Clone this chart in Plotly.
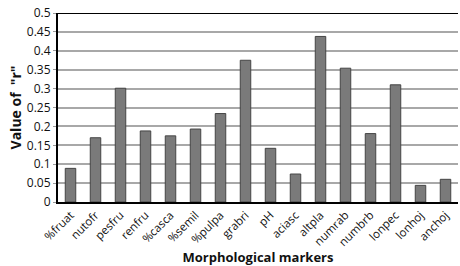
import plotly.graph_objects as go

categories = ["%fruat", "nutofr", "pesfru", "renfru", "%casca", "%semil", "%pulpa", "grabri",
              "pH", "aciasc", "altpla", "numrab", "numbrb", "lonpec", "lonhoj", "anchoj"]
values = [0.089, 0.170, 0.301, 0.188, 0.175, 0.193, 0.234, 0.375,
          0.142, 0.074, 0.438, 0.354, 0.181, 0.310, 0.044, 0.060]
ytick_vals = [0, 0.05, 0.1, 0.15, 0.2, 0.25, 0.3, 0.35, 0.4, 0.45, 0.5]
ytick_text = ["0", "0.05", "0.1", "0.15", "0.2", "0.25", "0.3", "0.35", "0.4", "0.45", "0.5"]

font = "Open Sans, Liberation Sans, Arial, sans-serif"

fig = go.Figure(go.Bar(
    x=categories, y=values, width=0.42,
    marker=dict(color="#7a7a7a", line=dict(color="#444444", width=1)),
))

fig.update_layout(
    width=460, height=266,
    margin=dict(l=58, r=2, t=13, b=64, autoexpand=False),
    paper_bgcolor="white", plot_bgcolor="white",
    showlegend=False,
    font=dict(family=font, color="#222"),
)
fig.update_xaxes(
    tickangle=-45, tickfont=dict(size=11.5, family=font, color="#111"),
    showline=True, linecolor="black", linewidth=2,
    title=dict(text="<b>Morphological markers</b>", font=dict(size=13, family=font, color="#111"), standoff=2),
    ticks="", showgrid=False, automargin=False,
)
fig.update_yaxes(
    range=[0, 0.5], tickvals=ytick_vals, ticktext=ytick_text,
    tickfont=dict(size=12, family=font, color="#111"),
    showline=True, linecolor="black", linewidth=2,
    showgrid=True, gridcolor="#a8a8a8", gridwidth=1.5,
    zeroline=False, ticks="outside", ticklen=3, tickcolor="#999", automargin=False,
    title=dict(text="<b>Value of  \"r\"</b>", font=dict(size=14, family=font, color="#111"), standoff=2),
)
fig.add_shape(type="line", xref="paper", yref="y", x0=0, x1=1, y0=0.5, y1=0.5,
              line=dict(color="black", width=2))

fig.write_html("out.html", config={"displayModeBar": False},
               post_script="document.body.style.margin='0';document.body.style.overflow='hidden';")
